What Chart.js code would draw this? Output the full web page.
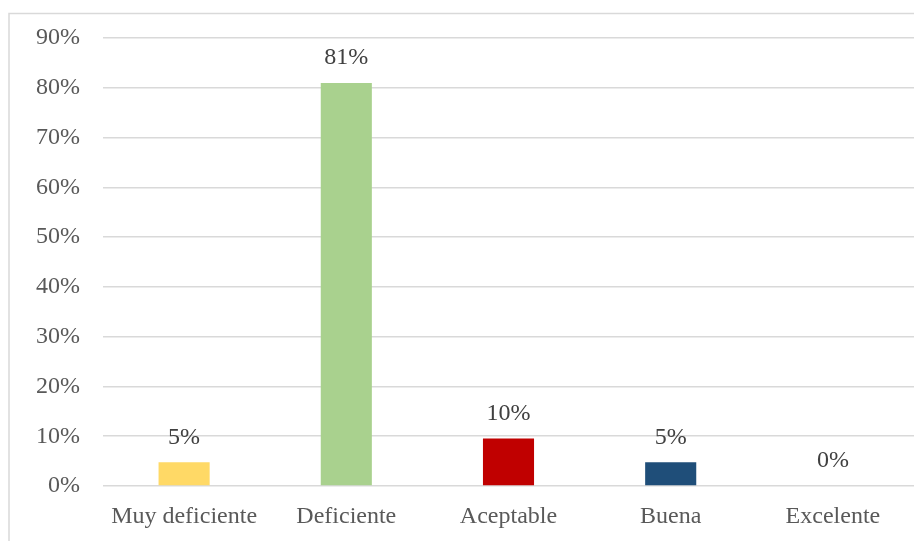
<!DOCTYPE html>
<html>
<head>
<meta charset="utf-8">
<script src="https://cdn.jsdelivr.net/npm/chart.js@4"></script>
<style>
  html, body { margin: 0; padding: 0; background: #fff; }
  #wrap { width: 914px; height: 541px; position: relative; }
</style>
</head>
<body>
<div id="wrap"><canvas id="chart" width="914" height="541"></canvas></div>
<script>
const categories = ['Muy deficiente', 'Deficiente', 'Aceptable', 'Buena', 'Excelente'];
const percentValues = [4.76, 80.95, 9.52, 4.76, 0];
const barColors = ['#FFD966', '#A9D18E', '#C00000', '#1F4E79', '#7F7F7F'];
const yTicks = [0, 10, 20, 30, 40, 50, 60, 70, 80, 90];

const textColor = '#595959';
const fontFamily = '"Liberation Serif", "Times New Roman", serif';

// Frame around the whole chart, like the spreadsheet chart border
const framePlugin = {
  id: 'frame',
  beforeDraw(chart) {
    const { ctx } = chart;
    ctx.save();
    ctx.strokeStyle = '#D9D9D9';
    ctx.lineWidth = 1.5;
    ctx.strokeRect(9, 13.5, chart.width + 10, chart.height + 10);
    ctx.restore();
  }
};

// Value labels above each bar
const valueLabels = {
  id: 'valueLabels',
  afterDatasetsDraw(chart) {
    const { ctx } = chart;
    const meta = chart.getDatasetMeta(0);
    ctx.save();
    ctx.fillStyle = '#404040';
    ctx.font = `24px ${fontFamily}`;
    ctx.textAlign = 'center';
    ctx.textBaseline = 'middle';
    meta.data.forEach((bar, i) => {
      ctx.fillText(`${Math.round(percentValues[i])}%`, bar.x, bar.y - 25);
    });
    ctx.restore();
  }
};

new Chart(document.getElementById('chart'), {
  type: 'bar',
  data: {
    labels: categories,
    datasets: [{
      data: percentValues,
      backgroundColor: barColors,
      borderWidth: 0,
      barPercentage: 0.315,
      categoryPercentage: 1
    }]
  },
  options: {
    responsive: false,
    animation: false,
    layout: { padding: { top: 38, right: 0, left: 0, bottom: 0 } },
    plugins: {
      legend: { display: false },
      tooltip: { enabled: false }
    },
    scales: {
      x: {
        grid: { display: false },
        border: { display: false },
        ticks: { color: textColor, font: { family: fontFamily, size: 24 }, padding: 8, maxRotation: 0 },
        afterFit: (s) => { s.height = 55; }
      },
      y: {
        min: 0,
        max: 90,
        afterBuildTicks: (s) => { s.ticks = yTicks.map(v => ({ value: v })); },
        grid: { color: '#D9D9D9', lineWidth: 1.5, drawTicks: false },
        border: { display: false },
        ticks: {
          color: textColor,
          font: { family: fontFamily, size: 24 },
          padding: 23,
          callback: (v) => `${v}%`
        },
        afterFit: (s) => { s.width = 103; }
      }
    }
  },
  plugins: [framePlugin, valueLabels]
});
</script>
</body>
</html>
